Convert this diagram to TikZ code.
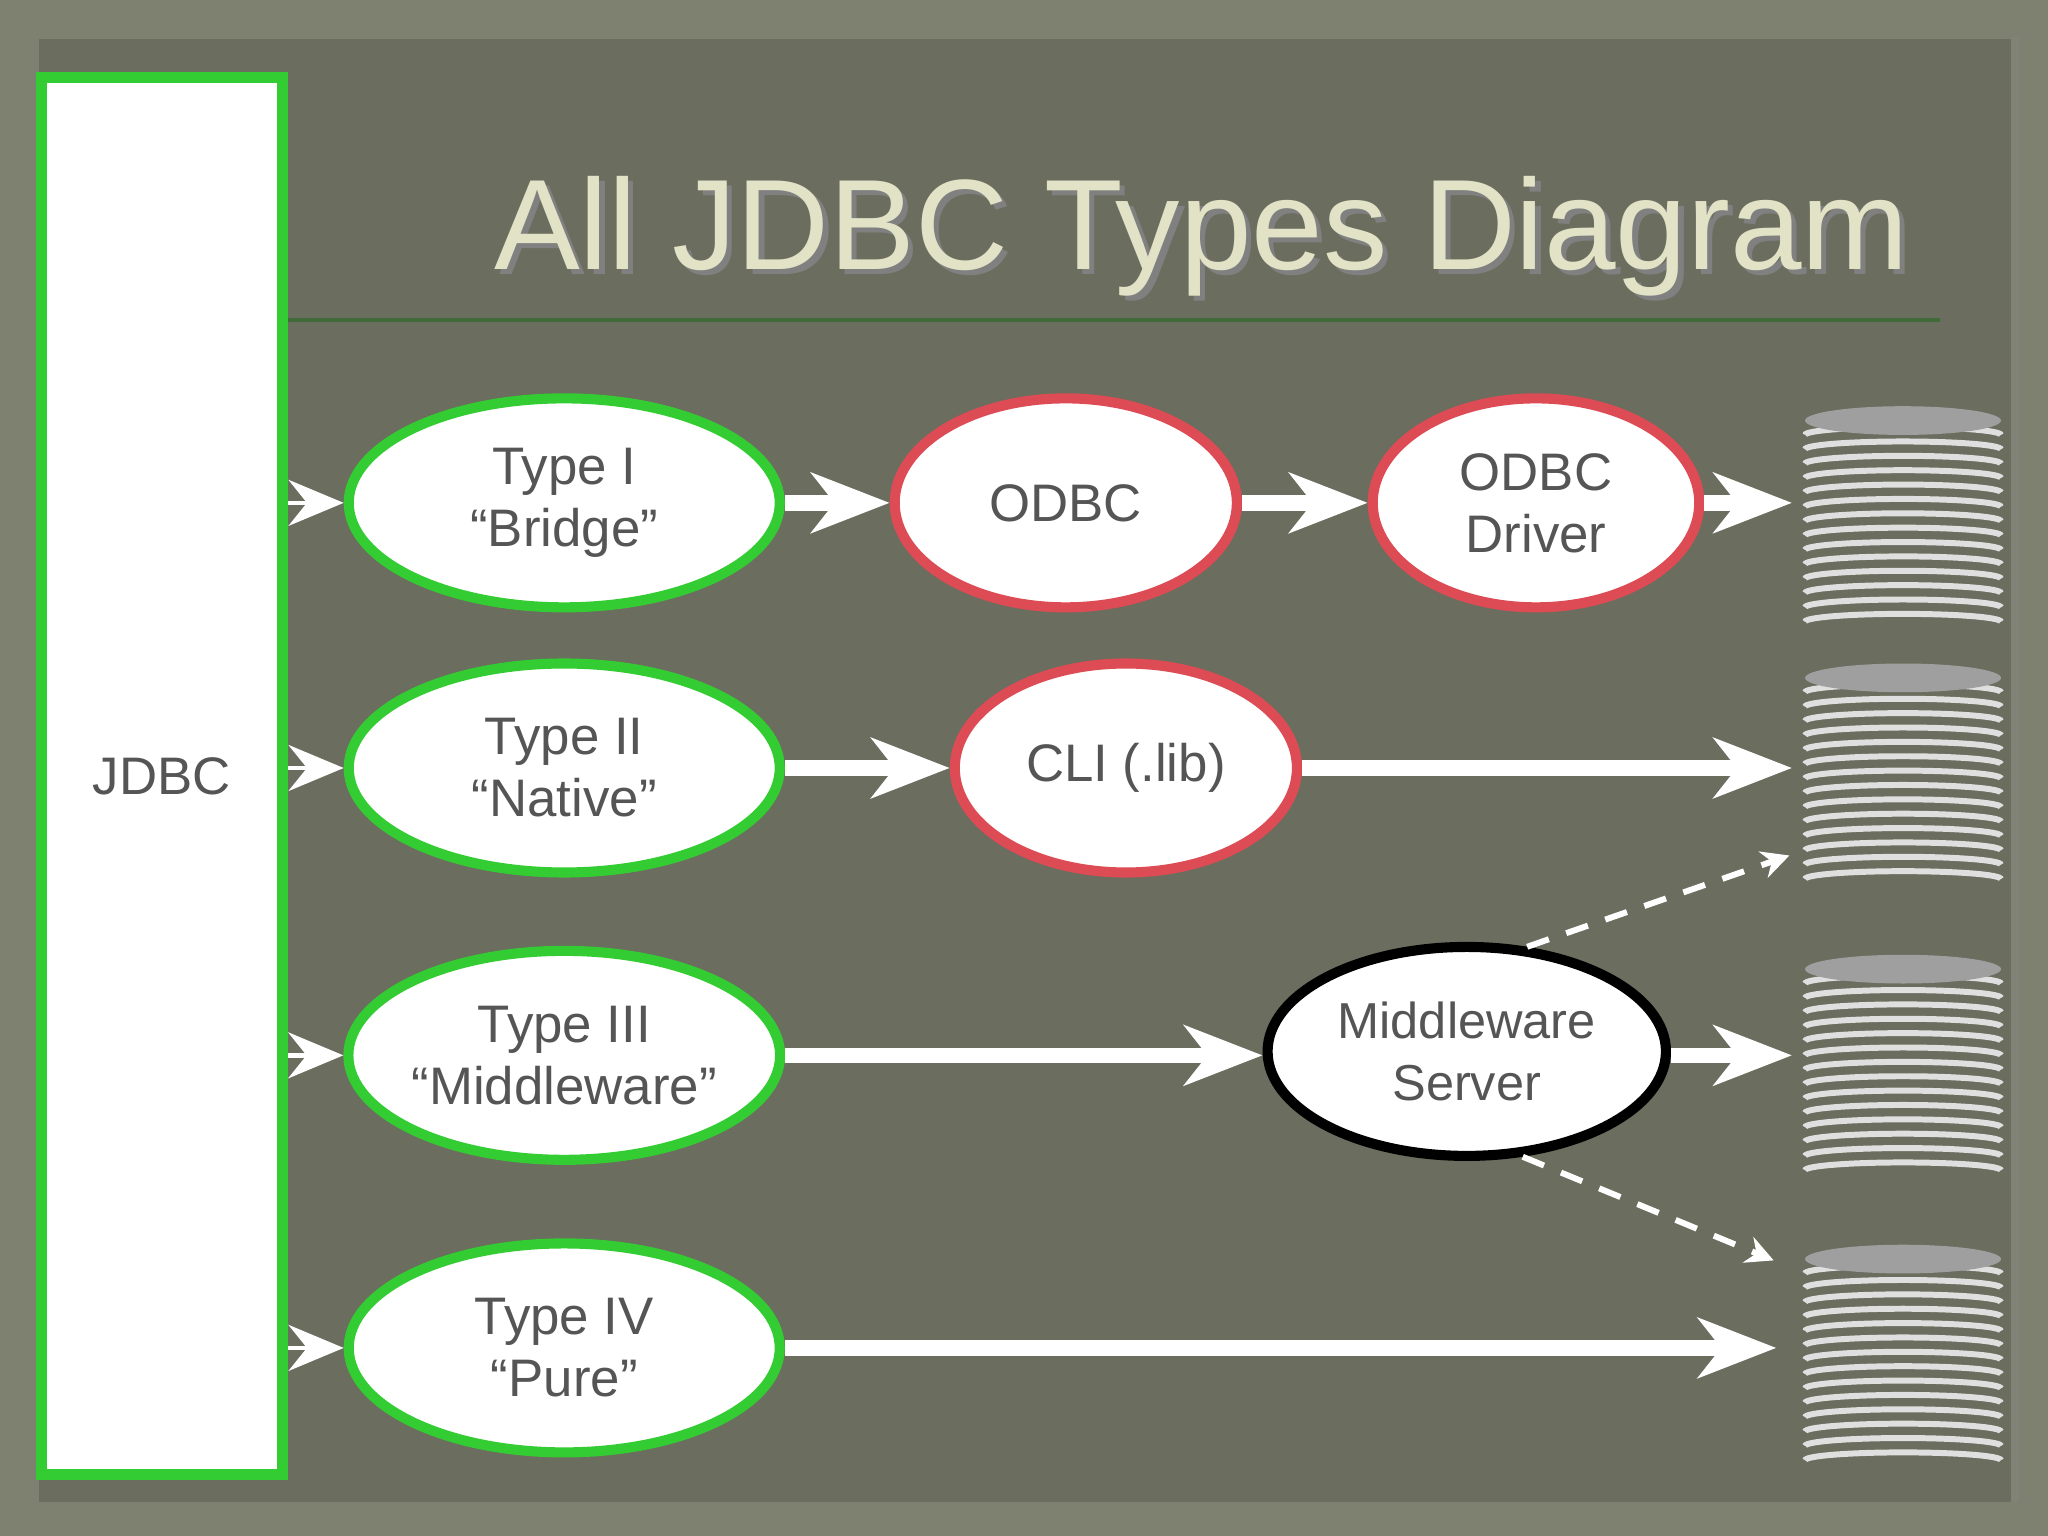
\documentclass[tikz,border=0pt]{standalone}
\usepackage{fontspec}
\setmainfont{Liberation Sans}
\usetikzlibrary{arrows.meta,shapes.geometric}
\definecolor{bgout}{HTML}{7E8070}
\definecolor{bgin}{HTML}{6B6D5E}
\definecolor{gr}{HTML}{33CC33}
\definecolor{rd}{HTML}{DD4B55}
\definecolor{tx}{HTML}{555555}
\definecolor{ttl}{HTML}{E2E2C6}
\tikzset{
 ov/.style={ellipse,fill=white,line width=2.2pt,font=\fontsize{11.5pt}{13.5pt}\selectfont,text=tx,align=center,inner sep=0pt},
 g/.style={ov,draw=gr,minimum width=330\un,minimum height=160\un},
 r/.style={ov,draw=rd,minimum height=160\un},
 ar/.style={white,line width=3.4pt,-{Stealth[length=17pt,width=13pt,inset=5pt]}},
 sar/.style={white,line width=1pt,-{Stealth[length=12pt,width=10pt,inset=4pt]}},
 da/.style={white,line width=1.3pt,dash pattern=on 5pt off 4pt,-{Stealth[length=6pt,width=6pt]}}
}
\newcommand{\un}{*0.01cm}
\begin{document}
\begin{tikzpicture}[x=0.01cm,y=-0.01cm]
\useasboundingbox (0,0) rectangle (1568,1176);
\fill[bgout] (0,0) rectangle (1568,1176);
\fill[bgin] (30,30) -- (1540,30) -- (1540,1150) -- (30,1150) -- cycle;
\fill[bgin!85!white] (1540,28) rectangle (1546,1150);
\node[font=\fontsize{28pt}{31pt}\selectfont,text=black!50,anchor=base] at (924,210) {All JDBC Types Diagram};
\node[font=\fontsize{28pt}{31pt}\selectfont,text=ttl,anchor=base] (title) at (920,206) {All JDBC Types Diagram};
\draw[line width=0.8pt,color=black!60!green!40!bgin] (220,245) -- (1485,245);
\node[draw=gr,line width=2.4pt,fill=white,minimum width=185\un,minimum height=1070\un,font=\fontsize{11.5pt}{13.5pt}\selectfont,text=tx] (jdbc) at (124,594) {JDBC};
% databases
\foreach \y [count=\i] in {310,507,730,952}{
  \foreach \k in {1,...,14}{
    \draw[white!75!gray,line width=1.3pt] (1382,\y+12+\k*11) arc[start angle=180,end angle=360,x radius=75,y radius=6];
  }
  \fill[gray!75!white] (1457,\y+12) ellipse[x radius=75,y radius=11];
}
\node[g] (t1) at (432,385) {Type I\\“Bridge”};
\node[g] (t2) at (432,588) {Type II\\“Native”};
\node[g] (t3) at (432,808) {Type III\\“Middleware”};
\node[g] (t4) at (432,1032) {Type IV\\“Pure”};
\node[r,minimum width=262\un] (odbc) at (816,385) {ODBC};
\node[r,minimum width=250\un] (drv) at (1176,385) {ODBC\\Driver};
\node[r,minimum width=262\un] (cli) at (862,588) {CLI (.lib)};
\node[ov,draw=black,minimum width=305\un,minimum height=160\un,font=\fontsize{11pt}{13.5pt}\selectfont] (mw) at (1123,805) {Middleware\\Server};
\coordinate (db1) at (1372,385);
\coordinate (db2) at (1372,588);
\coordinate (db3) at (1372,808);
\coordinate (db4) at (1360,1032);
\foreach \t in {t1,t2,t3,t4}{\draw[sar] (jdbc.east |- \t) -- (\t.west);}
\draw[ar] (t1) -- (odbc);
\draw[ar] (odbc) -- (drv);
\draw[ar] (drv) -- (db1);
\draw[ar] (t2) -- (cli);
\draw[ar] (cli) -- (db2);
\draw[ar] (t3.east) -- (mw.west |- t3);
\draw[ar] (mw.east |- db3) -- (db3);
\draw[ar] (t4) -- (db4);
\coordinate (d1) at (1370,655);
\coordinate (d2) at (1358,965);
\draw[da] (mw.60) -- (d1);
\draw[da] (mw.-62) -- (d2);
\end{tikzpicture}
\end{document}
